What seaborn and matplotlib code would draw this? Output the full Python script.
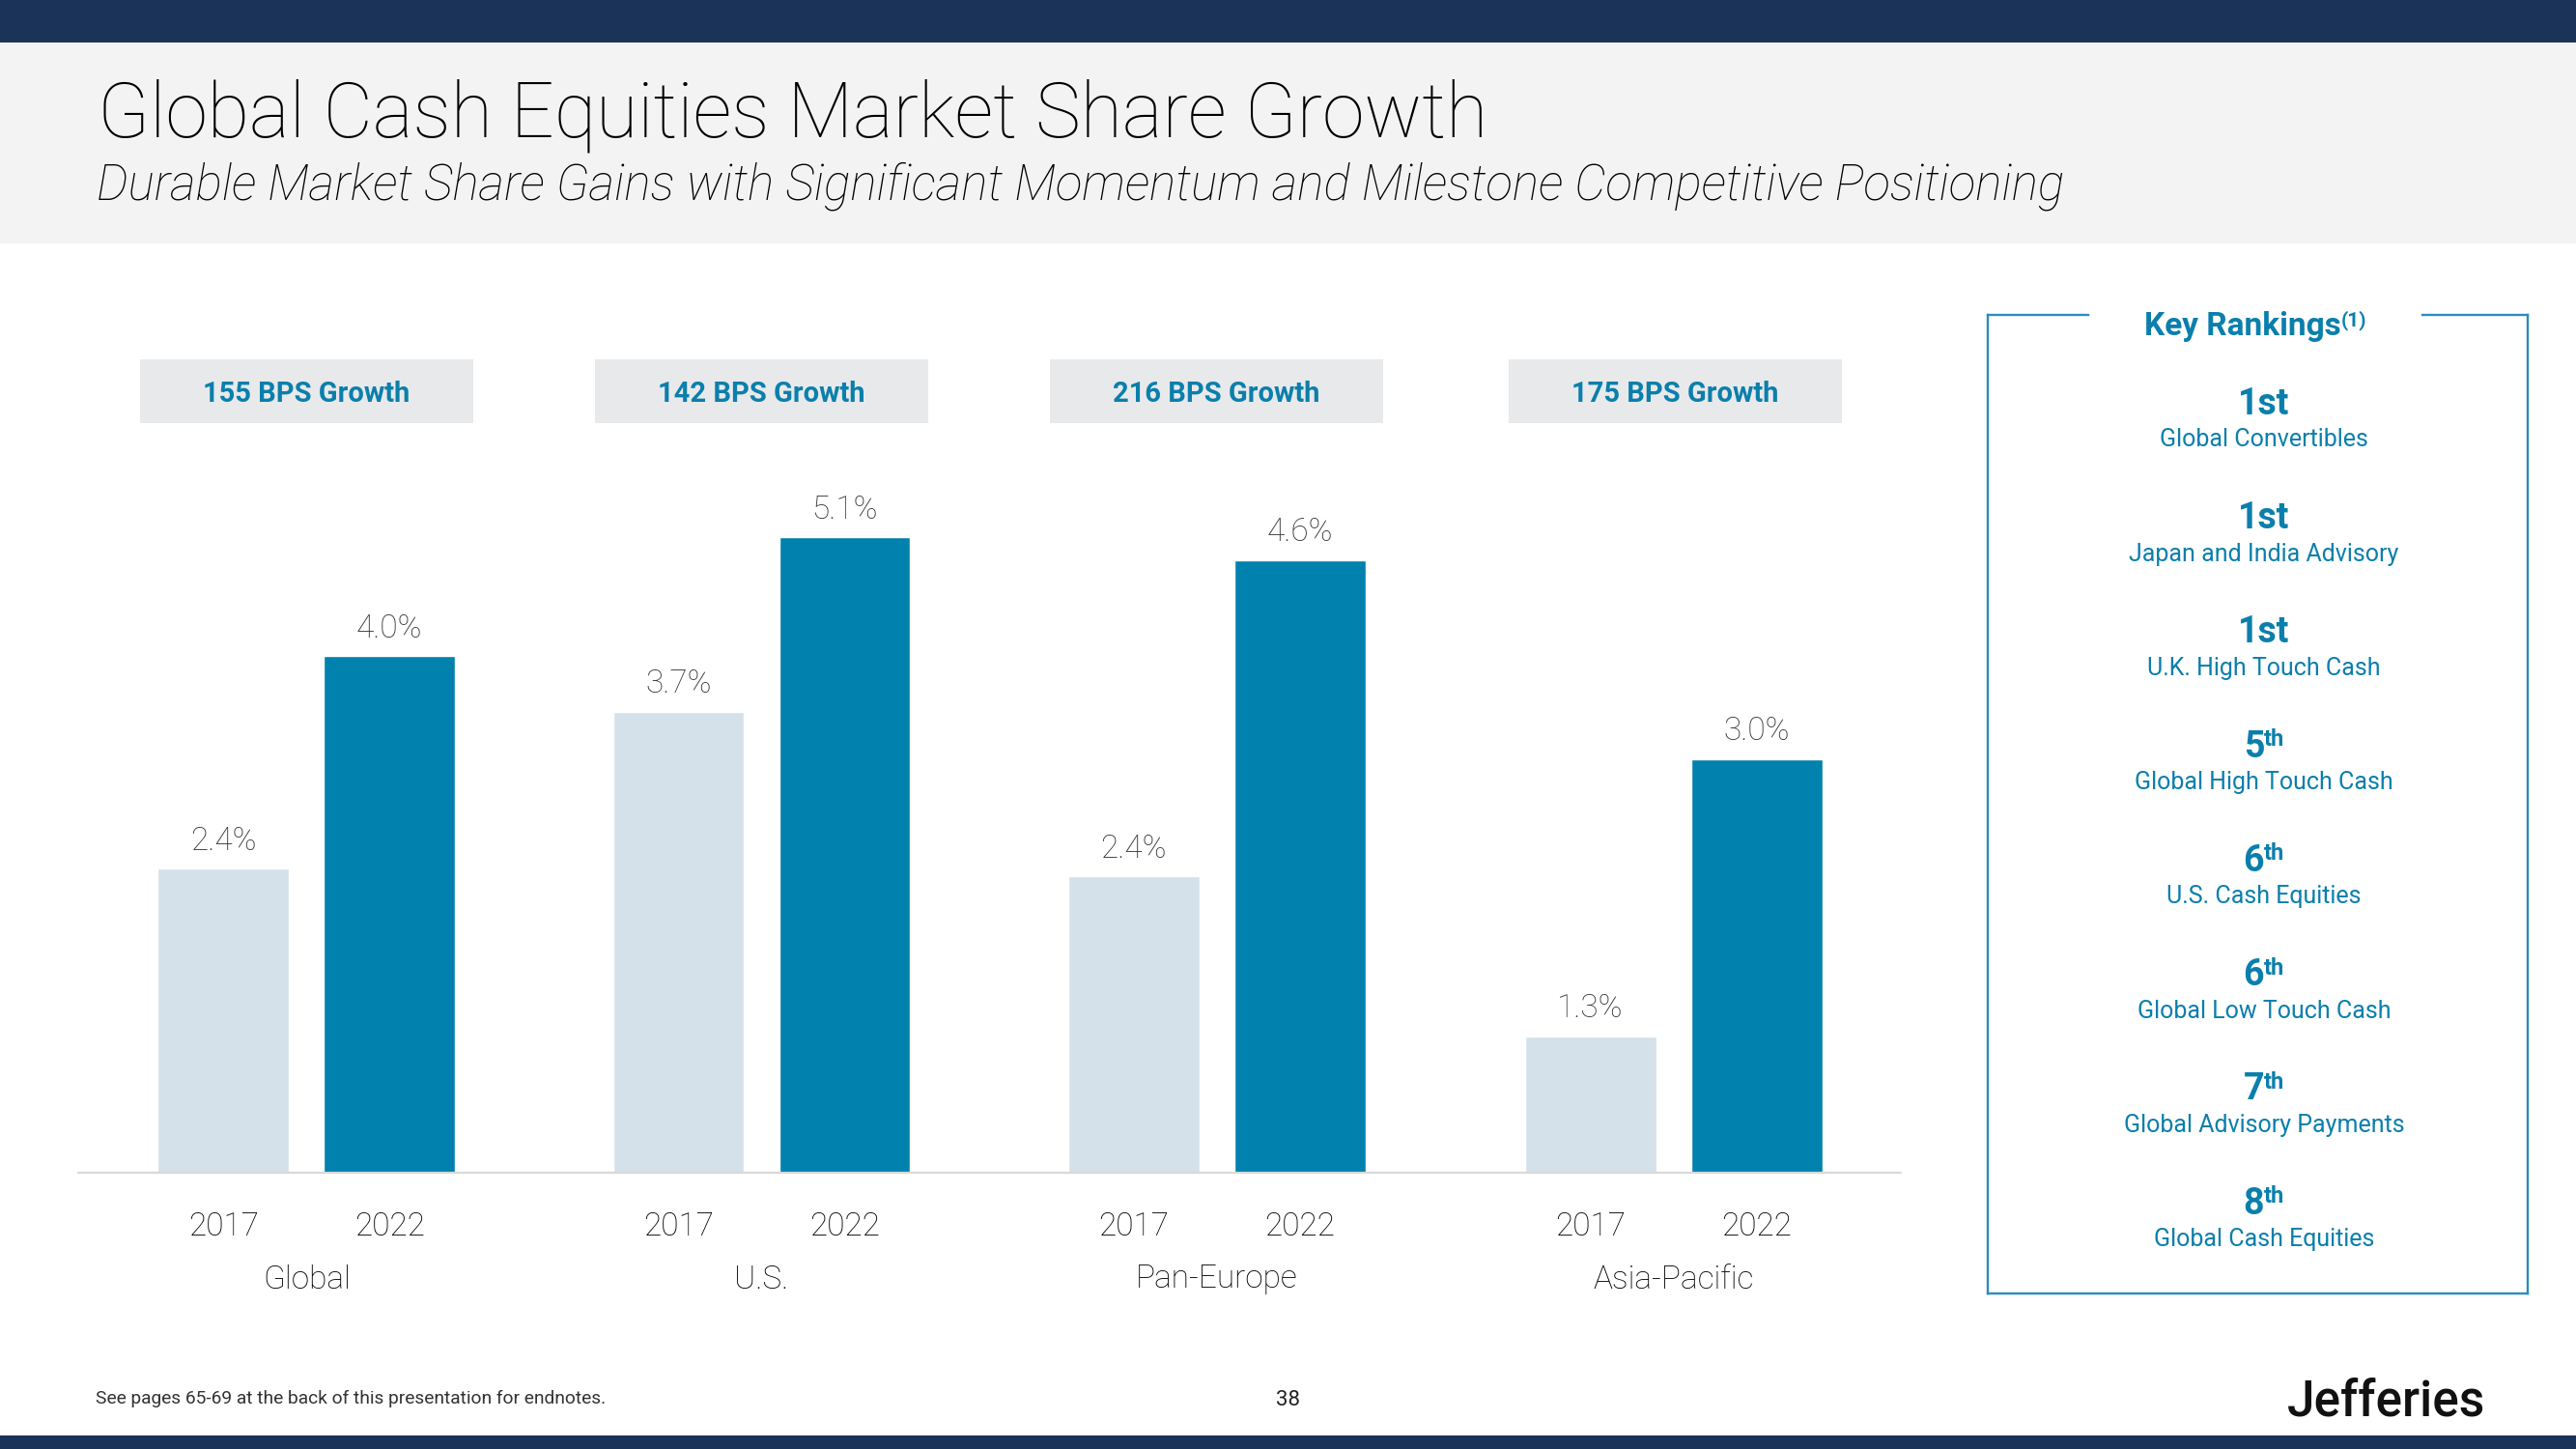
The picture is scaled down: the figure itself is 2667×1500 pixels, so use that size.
import matplotlib
matplotlib.use("Agg")
import matplotlib.pyplot as plt
import seaborn as sns
import pandas as pd
from matplotlib.lines import Line2D
from matplotlib.patches import Rectangle

# ---------------- data ----------------
regions = ["Global", "U.S.", "Pan-Europe", "Asia-Pacific"]
years = ["2017", "2022"]
share_2017 = [2.4, 3.7, 2.4, 1.3]
share_2022 = [4.0, 5.1, 4.6, 3.0]
growth_bps = [155, 142, 216, 175]
rank_numbers = ["1", "1", "1", "5", "6", "6", "7", "8"]
rank_suffixes = ["st", "st", "st", "th", "th", "th", "th", "th"]
rank_labels = ["Global Convertibles", "Japan and India Advisory",
               "U.K. High Touch Cash", "Global High Touch Cash",
               "U.S. Cash Equities", "Global Low Touch Cash",
               "Global Advisory Payments", "Global Cash Equities"]

title = "Global Cash Equities Market Share Growth"
subtitle = ("Durable Market Share Gains with Significant Momentum and "
            "Milestone Competitive Positioning")
footnote = "See pages 65-69 at the back of this presentation for endnotes."
page_no = "38"
brand = "Jefferies"

# ---------------- style ----------------
sns.set_theme(style="white")
plt.rcParams["font.family"] = ["Roboto", "DejaVu Sans"]

NAVY = "#1B3358"
HEADER_BG = "#F3F3F3"
C2017 = "#D4E1EB"
C2022 = "#0181AD"
TEAL = "#0B7FAC"
BOX_BG = "#E8E9EB"
VAL_GREY = "#333333"
BORDER = "#2A8CBE"

W, H = 2667, 1500
fig = plt.figure(figsize=(W / 100, H / 100), dpi=100)
fig.patch.set_facecolor("white")


def fx(x):
    return x / W


def fy(y):
    return 1 - y / H


# background bands
fig.add_artist(Rectangle((0, fy(44)), 1, 44 / H, transform=fig.transFigure,
                         facecolor=NAVY, edgecolor="none", zorder=0))
fig.add_artist(Rectangle((0, fy(252)), 1, (252 - 44) / H, transform=fig.transFigure,
                         facecolor=HEADER_BG, edgecolor="none", zorder=0))
fig.add_artist(Rectangle((0, 0), 1, 14 / H, transform=fig.transFigure,
                         facecolor=NAVY, edgecolor="none", zorder=0))

fig.text(fx(101), fy(141), title, fontsize=56.8, fontweight="light",
         color="#000000", va="baseline", ha="left")
fig.text(fx(100), fy(207), subtitle, fontsize=36.9, fontweight="light",
         fontstyle="italic", color="#000000", va="baseline", ha="left")

# ---------------- bar charts (one small chart per region) ----------------
first_bar_px = [231.3, 702.5, 1173.7, 1646.6]
bar_step = 172.0
base_px = 1214
top_px = 450
y_ranges = [(0.11, 5.666), (0.0, 5.922), (0.34, 5.471), (0.464, 4.99)]
box_centers = [317.2, 788.4, 1259.6, 1734.1]

for i, region in enumerate(regions):
    left = first_bar_px[i] - 0.8 * bar_step
    ax = fig.add_axes([fx(left), fy(base_px), 2.6 * bar_step / W,
                       (base_px - top_px) / H])
    df = pd.DataFrame({"Year": years, "Share": [share_2017[i], share_2022[i]]})
    sns.barplot(data=df, x="Year", y="Share", hue="Year",
                palette=[C2017, C2022], width=0.79, legend=False,
                saturation=1, ax=ax)
    ax.set_xlim(-0.8, 1.8)
    ax.set_ylim(*y_ranges[i])
    for cont in ax.containers:
        ax.bar_label(cont, labels=[f"{b.get_height():.1f}%" for b in cont],
                     padding=9, fontsize=24, fontweight="light", color=VAL_GREY)
    for s in ax.spines.values():
        s.set_visible(False)
    ax.set_yticks([])
    ax.set_ylabel("")
    ax.tick_params(axis="x", length=0, pad=29, labelsize=24, labelcolor="#000000")
    for lab in ax.get_xticklabels():
        lab.set_fontweight("light")
    ax.set_xlabel(region, fontsize=24, fontweight="light", color="#000000",
                  labelpad=16)
    ax.patch.set_alpha(0)

    # growth box
    bx = box_centers[i]
    fig.add_artist(Rectangle((fx(bx - 172.5), fy(438)), 345 / W, 66 / H,
                             transform=fig.transFigure, facecolor=BOX_BG,
                             edgecolor="none", zorder=1))
    fig.text(fx(bx), fy(416), f"{growth_bps[i]} BPS Growth", fontsize=21,
             fontweight="bold", color=TEAL, ha="center", va="baseline", zorder=2)

# shared baseline
fig.add_artist(Line2D([fx(81), fx(1968)], [fy(base_px), fy(base_px)],
                      transform=fig.transFigure, color="#D9D9D9", lw=1.6, zorder=3))

# ---------------- key rankings panel ----------------
L, R, T, B = 2058, 2617, 326, 1339
gap_l, gap_r = 2162, 2508
lw = 1.7
for xs, ys in [([L, gap_l], [T, T]), ([gap_r, R], [T, T]), ([L, L], [T, B]),
               ([R, R], [T, B]), ([L, R], [B, B])]:
    fig.add_artist(Line2D([fx(x) for x in xs], [fy(y) for y in ys],
                          transform=fig.transFigure, color=BORDER, lw=lw,
                          solid_capstyle="projecting"))

renderer = fig.canvas.get_renderer()


def composite(xc, ybase, main, sup, size, sup_size, raise_px, weight="bold"):
    t1 = fig.text(0, 0, main, fontsize=size, fontweight=weight, color=TEAL,
                  ha="left", va="baseline")
    w1 = t1.get_window_extent(renderer).width
    w2 = 0
    t2 = None
    if sup:
        t2 = fig.text(0, 0, sup, fontsize=sup_size, fontweight=weight,
                      color=TEAL, ha="left", va="baseline")
        w2 = t2.get_window_extent(renderer).width
    x0 = xc - (w1 + w2) / 2
    t1.set_position((fx(x0), fy(ybase)))
    if t2 is not None:
        t2.set_position((fx(x0 + w1), fy(ybase - raise_px)))


composite(2335, 347, "Key Rankings", "(1)", 24, 15, 10)

cx = 2344
for i in range(len(rank_numbers)):
    yb = 428.7 + 118.3 * i
    if rank_suffixes[i] == "th":
        composite(cx, yb, rank_numbers[i], rank_suffixes[i], 27, 17, 11.5)
    else:
        composite(cx, yb, rank_numbers[i] + rank_suffixes[i], "", 27, 17, 0)
    fig.text(fx(cx), fy(yb + 33.5), rank_labels[i], fontsize=18,
             color=TEAL, ha="center", va="baseline")

# ---------------- footer ----------------
fig.text(fx(99), fy(1453), footnote, fontsize=13.8, fontweight="normal",
         color="#333333", ha="left", va="baseline")
fig.text(fx(1334), fy(1455), page_no, fontsize=16, color="#222222",
         ha="center", va="baseline")
fig.text(fx(2368), fy(1466), brand, fontsize=37, fontweight="medium",
         color="#111111", ha="left", va="baseline")

fig.savefig("out.png", dpi=100, facecolor=fig.get_facecolor())
